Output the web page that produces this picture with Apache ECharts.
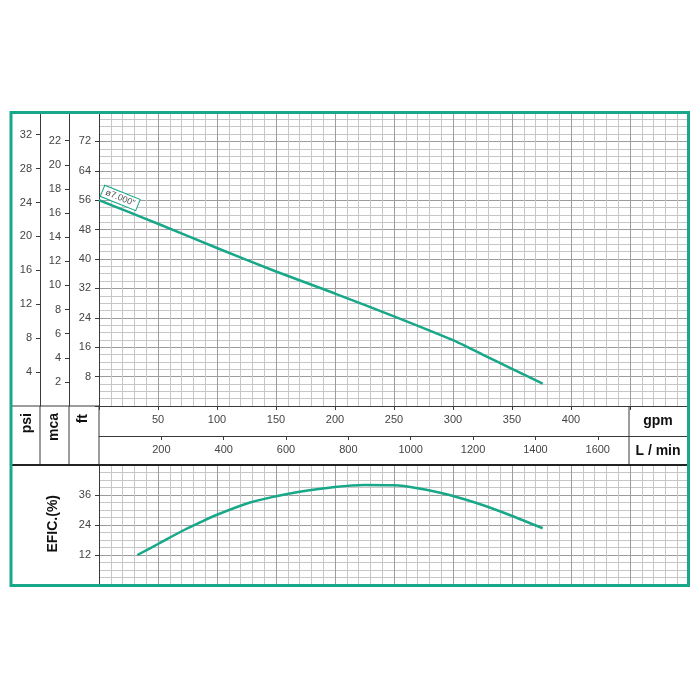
<!DOCTYPE html>
<html><head><meta charset="utf-8">
<script src="https://cdn.jsdelivr.net/npm/echarts@6/dist/echarts.min.js"></script>
<style>html,body{margin:0;padding:0;background:#fff}#c{width:700px;height:700px}</style>
</head><body><div id="c"></div>
<script>
// ---- data ----
const gpmTicks = [50, 100, 150, 200, 250, 300, 350, 400];
const lpmTicks = [200, 400, 600, 800, 1000, 1200, 1400, 1600];
const ftTicks = [8, 16, 24, 32, 40, 48, 56, 64, 72];
const mcaTicks = [2, 4, 6, 8, 10, 12, 14, 16, 18, 20, 22];
const psiTicks = [4, 8, 12, 16, 20, 24, 28, 32];
const effTicks = [12, 24, 36];

const headGpm = [0, 25, 50, 100, 150, 200, 250, 300, 325, 350, 376];
const headFt  = [56.0, 52.8, 49.6, 43.0, 36.6, 30.6, 24.4, 17.9, 14.0, 10.1, 6.1];

const effGpm = [32.5, 50, 70, 85, 100, 128, 150, 170, 200, 225, 250, 270, 297, 325, 348, 376];
const effPct = [12.0, 16.4, 21.5, 24.9, 28.1, 33.0, 35.5, 37.3, 39.2, 40.0, 39.9, 38.7, 36.0, 32.0, 28.0, 22.7];

const impellerLabel = 'ø7.000"';

const FT_PER_M = 3.28084, FT_PER_PSI = 2.30666, LPM_PER_GPM = 3.785411784;
const GPM_MAX = 500, FT_MAX = 80, EFF_MAX = 48;

// ---- styles ----
const TEAL = '#18a889';
const AX = '#3a3a3a';
const FONT = 'Liberation Sans, Arial, Helvetica, sans-serif';
const MAJOR = '#9c9c9c', MINOR = '#c6c6c6';
const only = list => v => list.some(t => Math.abs(t - v) < 1e-6) ? String(v) : '';
const axisLine = { show: true, onZero: false, lineStyle: { color: AX, width: 1 } };
const axisTick = { show: true, length: 4, lineStyle: { color: AX, width: 1 } };
const tickAt = list => ({ show: true, length: 4, customValues: list, lineStyle: { color: AX, width: 1 } });
const lab = (list) => ({ color: '#444', fontSize: 11, fontFamily: FONT, margin: 8, formatter: only(list) });

const chart = echarts.init(document.getElementById('c'), null, { renderer: 'canvas' });

const vline = (x, y1, y2, w) => ({ type: 'line', shape: { x1: x, y1: y1, x2: x, y2: y2 }, style: { stroke: AX, lineWidth: w || 1 }, z: 50 });
const hline = (y, x1, x2, w, c) => ({ type: 'line', shape: { x1: x1, y1: y, x2: x2, y2: y }, style: { stroke: c || AX, lineWidth: w || 1 }, z: 50 });
const rtext = (x, y, t) => ({ type: 'text', x: x, y: y, rotation: Math.PI / 2, z: 50,
  style: { text: t, font: 'bold 14px ' + FONT, fill: '#111', align: 'right', verticalAlign: 'middle', textAlign: 'right', textVerticalAlign: 'middle' } });
const ctext = (x, y, t) => ({ type: 'text', x: x, y: y, z: 50,
  style: { text: t, font: 'bold 14px ' + FONT, fill: '#111', align: 'center', verticalAlign: 'middle', textAlign: 'center', textVerticalAlign: 'middle' } });

chart.setOption({
  animation: false,
  backgroundColor: '#fff',
  grid: [
    { left: 99, top: 112, width: 590, height: 294 },
    { left: 99, top: 465, width: 590, height: 120 }
  ],
  xAxis: [
    { gridIndex: 0, type: 'value', min: 0, max: GPM_MAX, interval: 50, position: 'bottom',
      axisLine: axisLine, axisTick: axisTick, axisLabel: lab(gpmTicks),
      splitLine: { show: true, lineStyle: { color: MAJOR, width: 1 } },
      minorTick: { show: false, splitNumber: 5 },
      minorSplitLine: { show: true, lineStyle: { color: MINOR, width: 1 } } },
    { gridIndex: 0, type: 'value', min: 0, max: GPM_MAX * LPM_PER_GPM, interval: 200, position: 'bottom', offset: 30,
      axisLine: axisLine, axisTick: tickAt(lpmTicks), axisLabel: lab(lpmTicks), splitLine: { show: false } },
    { gridIndex: 1, type: 'value', min: 0, max: GPM_MAX, interval: 50, position: 'bottom',
      axisLine: { show: false, onZero: false }, axisTick: { show: false }, axisLabel: { show: false },
      splitLine: { show: true, lineStyle: { color: MAJOR, width: 1 } },
      minorTick: { show: false, splitNumber: 5 },
      minorSplitLine: { show: true, lineStyle: { color: MINOR, width: 1 } } }
  ],
  yAxis: [
    { gridIndex: 0, type: 'value', min: 0, max: FT_MAX, interval: 8, position: 'left', offset: 0,
      axisLine: axisLine, axisTick: axisTick, axisLabel: lab(ftTicks),
      splitLine: { show: true, lineStyle: { color: MAJOR, width: 1 } },
      minorTick: { show: false, splitNumber: 4 },
      minorSplitLine: { show: true, lineStyle: { color: MINOR, width: 1 } } },
    { gridIndex: 0, type: 'value', min: 0, max: FT_MAX / FT_PER_M, interval: 2, position: 'left', offset: 30,
      axisLine: axisLine, axisTick: tickAt(mcaTicks), axisLabel: lab(mcaTicks), splitLine: { show: false } },
    { gridIndex: 0, type: 'value', min: 0, max: FT_MAX / FT_PER_PSI, interval: 4, position: 'left', offset: 59,
      axisLine: axisLine, axisTick: tickAt(psiTicks), axisLabel: lab(psiTicks), splitLine: { show: false } },
    { gridIndex: 1, type: 'value', min: 0, max: EFF_MAX, interval: 12, position: 'left',
      axisLine: axisLine, axisTick: axisTick, axisLabel: lab(effTicks),
      splitLine: { show: true, lineStyle: { color: MAJOR, width: 1 } },
      minorTick: { show: false, splitNumber: 4 },
      minorSplitLine: { show: true, lineStyle: { color: MINOR, width: 1 } } }
  ],
  series: [
    { type: 'line', xAxisIndex: 0, yAxisIndex: 0, smooth: 0.2, showSymbol: false, z: 5,
      data: headGpm.map((g, i) => [g, headFt[i]]),
      lineStyle: { color: TEAL, width: 2.5 },
      markPoint: {
        symbol: 'rect', symbolSize: 1, itemStyle: { color: 'rgba(0,0,0,0)' },
        data: [{ coord: [18, 56.6], value: impellerLabel }],
        label: { show: true, position: 'inside', formatter: impellerLabel, rotate: -22,
          fontSize: 9, fontFamily: FONT, color: '#555', backgroundColor: '#fff',
          borderColor: TEAL, borderWidth: 1, padding: [1, 3] }
      } },
    { type: 'line', xAxisIndex: 2, yAxisIndex: 3, smooth: 0.3, showSymbol: false, z: 5,
      data: effGpm.map((g, i) => [g, effPct[i]]),
      lineStyle: { color: TEAL, width: 2.5 } }
  ],
  graphic: [
    vline(40, 406, 465), vline(69, 406, 465), vline(99, 406, 465), vline(629, 406, 465),
    hline(406, 10, 99), hline(465, 10, 689, 2, '#222'),
    rtext(27.5, 413, 'psi'), rtext(54, 413, 'mca'), rtext(83, 414, 'ft'),
    rtext(53.5, 495, 'EFIC.(%)'),
    ctext(658, 421, 'gpm'), ctext(658, 451, 'L / min'),
    { type: 'rect', shape: { x: 11, y: 112.5, width: 677.5, height: 473 },
      style: { fill: 'none', stroke: TEAL, lineWidth: 3 }, z: 60 }
  ]
});
</script></body></html>
